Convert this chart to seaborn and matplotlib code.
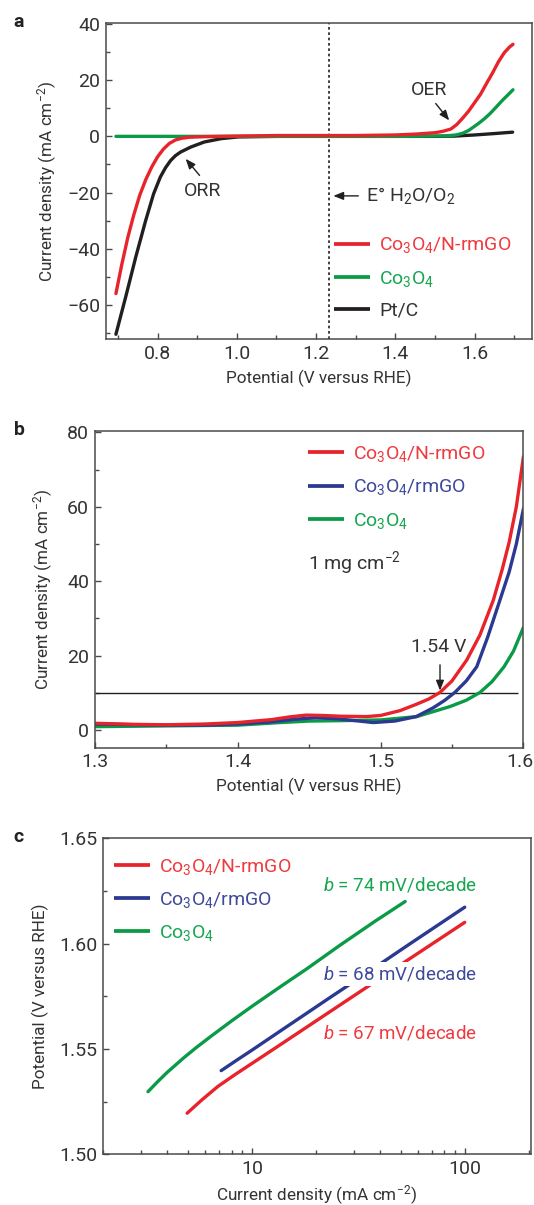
import numpy as np
import pandas as pd
import matplotlib
matplotlib.use("Agg")
import matplotlib.pyplot as plt
from matplotlib.lines import Line2D
from matplotlib.ticker import MultipleLocator, FixedLocator, NullFormatter, LogLocator
from matplotlib.transforms import ScaledTranslation
import seaborn as sns

# ---------------- data ----------------
# Panel a: polarisation curves (ORR + OER)
a_red_x = [0.695, 0.71, 0.725, 0.74, 0.755, 0.77, 0.785, 0.80, 0.815, 0.83, 0.845, 0.86, 0.88, 0.92,
           1.00, 1.10, 1.20, 1.30, 1.40, 1.45, 1.50, 1.52, 1.54, 1.555, 1.57, 1.585, 1.60, 1.615,
           1.63, 1.645, 1.66, 1.675, 1.688, 1.697]
a_red_y = [-56, -45.5, -36, -28, -21, -15.5, -11, -7.3, -4.5, -2.5, -1.3, -0.7, -0.3, -0.1,
           0.1, 0.3, 0.3, 0.3, 0.5, 0.8, 1.3, 1.8, 2.6, 4.2, 6.5, 9.0, 12.0, 15.0,
           18.8, 22.5, 26.5, 29.8, 31.8, 32.8]
a_green_x = [0.695, 0.80, 0.90, 1.00, 1.10, 1.20, 1.30, 1.40, 1.50, 1.53, 1.553, 1.57, 1.585, 1.597,
             1.61, 1.625, 1.639, 1.655, 1.67, 1.685, 1.697]
a_green_y = [0.0, 0.0, 0.0, 0.0, 0.0, 0.0, 0.0, 0.0, 0.1, 0.2, 0.5, 1.1, 2.1, 3.3,
             4.6, 6.3, 8.1, 10.5, 12.8, 14.9, 16.6]
a_black_x = [0.695, 0.72, 0.745, 0.77, 0.79, 0.807, 0.82, 0.833, 0.845, 0.858, 0.884, 0.918, 0.961,
             1.004, 1.10, 1.20, 1.30, 1.40, 1.50, 1.55, 1.60, 1.65, 1.696]
a_black_y = [-70.5, -57, -43, -30, -20.5, -14.5, -11.2, -8.6, -6.9, -5.6, -3.8, -2.0, -0.8,
             -0.2, 0.0, 0.0, 0.0, 0.0, 0.0, 0.1, 0.5, 1.0, 1.5]
e_h2o_o2 = 1.233

# Panel b: OER polarisation curves
b_red_x = [1.30, 1.33, 1.35, 1.377, 1.40, 1.424, 1.436, 1.448, 1.46, 1.472, 1.49, 1.50, 1.5136,
           1.525, 1.5336, 1.5416, 1.55, 1.5603, 1.5695, 1.5789, 1.585, 1.59, 1.595, 1.60]
b_red_y = [1.8, 1.5, 1.4, 1.6, 2.0, 2.8, 3.5, 4.0, 3.9, 3.7, 3.6, 3.9, 5.2,
           6.9, 8.3, 10.1, 13.2, 18.8, 25.5, 34.9, 43.0, 50.5, 60.0, 73.5]
b_blue_x = [1.30, 1.33, 1.35, 1.377, 1.40, 1.424, 1.44, 1.455, 1.47, 1.485, 1.495, 1.51, 1.525,
            1.537, 1.545, 1.552, 1.56, 1.5673, 1.575, 1.5836, 1.59, 1.595, 1.60]
b_blue_y = [1.6, 1.4, 1.3, 1.3, 1.6, 2.2, 2.9, 3.3, 3.0, 2.4, 2.0, 2.4, 3.6,
            6.0, 8.0, 10.1, 13.2, 17.0, 25.0, 35.0, 42.5, 50.0, 59.5]
b_green_x = [1.30, 1.35, 1.40, 1.43, 1.45, 1.47, 1.50, 1.5253, 1.5486, 1.56, 1.5696, 1.578, 1.5864,
             1.593, 1.60]
b_green_y = [0.9, 1.1, 1.3, 2.0, 2.4, 2.5, 2.7, 3.6, 6.3, 8.0, 10.1, 13.0, 17.0, 21.2, 27.6]
j_ref = 10
j_line_end = 1.5964
e_at_10 = 1.54

# Panel c: Tafel plots
c_red_x = [4.95, 5.8, 6.9, 8.3, 10.0, 13.0, 18.0, 24.0, 30.1, 40.0, 56.2, 72.8, 99.6]
c_red_y = [1.5195, 1.5258, 1.5322, 1.5378, 1.5432, 1.5508, 1.5603, 1.5687, 1.5753, 1.5836, 1.5935,
           1.6010, 1.6101]
c_blue_x = [7.15, 8.5, 10.0, 13.5, 18.0, 22.5, 27.9, 34.5, 41.9, 54.3, 72.8, 99.6]
c_blue_y = [1.5397, 1.5448, 1.5495, 1.5584, 1.5669, 1.5735, 1.5798, 1.5861, 1.5918, 1.5995, 1.6081,
            1.6173]
c_green_x = [3.24, 3.6, 3.97, 4.77, 5.5, 6.4, 8.0, 10.0, 13.5, 17.97, 25.9, 37.6, 52.3]
c_green_y = [1.5297, 1.5345, 1.5387, 1.5458, 1.5509, 1.5560, 1.5633, 1.5703, 1.5794, 1.5879, 1.5993,
             1.6105, 1.6200]
tafel_slopes = [74, 68, 67]

name_ngo = "Co$_3$O$_4$/N-rmGO"
name_rgo = "Co$_3$O$_4$/rmGO"
name_co = "Co$_3$O$_4$"
name_pt = "Pt/C"

# ---------------- style ----------------
sns.set_theme(style="ticks")
plt.rcParams["font.family"] = ["Roboto", "DejaVu Sans"]
plt.rcParams["mathtext.fontset"] = "custom"
plt.rcParams["mathtext.rm"] = "Roboto"
plt.rcParams["mathtext.it"] = "Roboto:italic"
plt.rcParams["mathtext.default"] = "regular"
plt.rcParams["axes.unicode_minus"] = True

TXT = "#333333"
SP = "#4a4a4a"
RED = "#e8242a"
BLUE = "#2b3990"
GREEN = "#0a9a48"
BLACK = "#231f20"
RED_T = "#ee3b40"
BLUE_T = "#3f4a9b"
GREEN_T = "#17a650"

FS = 14        # tick labels, legend, annotations
FL = 12.3      # axis labels
LW = 2.4

fig = plt.figure(figsize=(5.34, 12.05), dpi=100)
ax_a = fig.add_axes([0.1978, 0.7184, 0.7985, 0.2622])
ax_b = fig.add_axes([0.1773, 0.3795, 0.8030, 0.2628])
ax_c = fig.add_axes([0.1927, 0.0421, 0.8017, 0.2622])


def style_axes(ax):
    for s in ax.spines.values():
        s.set_visible(True)
        s.set_color(SP)
        s.set_linewidth(1.1)
    ax.tick_params(which="both", direction="in", colors=SP, labelcolor=TXT,
                   labelsize=FS, width=1.0)
    ax.tick_params(which="major", length=4.5, pad=4)
    ax.tick_params(which="minor", length=2.8)
    ax.grid(False)
    ax.set_facecolor("white")


def draw(ax, xs, ys, name, color):
    df = pd.DataFrame({"x": xs, "y": ys, "s": name})
    sns.lineplot(data=df, x="x", y="y", color=color, ax=ax, sort=False,
                 estimator=None, linewidth=LW, legend=False,
                 solid_capstyle="round", solid_joinstyle="round")


def legend(ax, colors, names, tcolors, anchor):
    h = [Line2D([], [], color=c, lw=LW + 0.3, solid_capstyle="butt") for c in colors]
    ax.legend(h, names, loc="center left", bbox_to_anchor=anchor, frameon=False,
              fontsize=FS, handlelength=1.85, handletextpad=0.45, labelspacing=0.68,
              borderpad=0, borderaxespad=0, labelcolor=tcolors)


arr = dict(arrowstyle="-|>,head_length=0.5,head_width=0.2", color=BLACK, lw=1.0,
           shrinkA=0, shrinkB=0)

# ---------------- panel a ----------------
ax = ax_a
draw(ax, a_black_x, a_black_y, name_pt, BLACK)
draw(ax, a_green_x, a_green_y, name_co, GREEN)
draw(ax, a_red_x, a_red_y, name_ngo, RED)
ax.axvline(e_h2o_o2, color=BLACK, lw=1.2, ls=(0, (1.6, 1.6)), zorder=1)
ax.set_xlim(0.669, 1.745)
ax.set_ylim(-72.3, 40.25)
ax.xaxis.set_major_locator(FixedLocator([0.8, 1.0, 1.2, 1.4, 1.6]))
ax.xaxis.set_minor_locator(MultipleLocator(0.1))
ax.set_xticklabels(["0.8", "1.0", "1.2", "1.4", "1.6"])
ax.yaxis.set_major_locator(MultipleLocator(20))
ax.yaxis.set_minor_locator(MultipleLocator(10))
style_axes(ax)
ax.set_xlabel("Potential (V versus RHE)", fontsize=FL, color=TXT, labelpad=5)
ax.set_ylabel("Current density (mA cm$^{-2}$)", fontsize=FL, color=TXT, labelpad=6)
ax.annotate("", xy=(1.536, 5.7), xytext=(1.502, 11.7), arrowprops=arr)
ax.text(1.485, 16.4, "OER", ha="center", va="center", fontsize=FS, color=TXT)
ax.annotate("", xy=(0.871, -8.0), xytext=(0.906, -13.9), arrowprops=arr)
ax.text(0.914, -19.3, "ORR", ha="center", va="center", fontsize=FS, color=TXT)
ax.annotate("", xy=(1.2436, -21.2), xytext=(1.3067, -21.2), arrowprops=arr)
ax.text(1.326, -21.2, "E° H$_2$O/O$_2$", ha="left", va="center", fontsize=FS, color=TXT)
legend(ax, (RED, GREEN, BLACK), [name_ngo, name_co, name_pt], [RED_T, GREEN_T, TXT],
       (0.536, 0.1955))

# ---------------- panel b ----------------
ax = ax_b
draw(ax, b_green_x, b_green_y, name_co, GREEN)
draw(ax, b_blue_x, b_blue_y, name_rgo, BLUE)
draw(ax, b_red_x, b_red_y, name_ngo, RED)
ax.hlines(j_ref, 1.3, j_line_end, color=BLACK, lw=1.0, zorder=1)
ax.set_xlim(1.3, 1.6)
ax.set_ylim(-4.76, 80.35)
ax.xaxis.set_major_locator(FixedLocator([1.3, 1.4, 1.5, 1.6]))
ax.set_xticklabels(["1.3", "1.4", "1.5", "1.6"])
ax.xaxis.set_minor_locator(MultipleLocator(0.05))
ax.yaxis.set_major_locator(MultipleLocator(20))
ax.yaxis.set_minor_locator(MultipleLocator(10))
style_axes(ax)
last = ax.xaxis.get_major_ticks()[-1].label1
last.set_transform(last.get_transform() + ScaledTranslation(-3.5 / 100, 0, fig.dpi_scale_trans))
ax.set_xlabel("Potential (V versus RHE)", fontsize=FL, color=TXT, labelpad=5)
ax.set_ylabel("Current density (mA cm$^{-2}$)", fontsize=FL, color=TXT, labelpad=9)
ax.annotate("", xy=(1.5416, 10.6), xytext=(1.5416, 17.5), arrowprops=arr)
ax.text(1.5404, 22.4, f"{e_at_10:.2f} V", ha="center", va="center", fontsize=FS, color=TXT)
ax.text(1.4494, 45, "1 mg cm$^{-2}$", ha="left", va="center", fontsize=FS, color=TXT)
legend(ax, (RED, BLUE, GREEN), [name_ngo, name_rgo, name_co], [RED_T, BLUE_T, GREEN_T],
       (0.497, 0.822))

# ---------------- panel c ----------------
ax = ax_c
draw(ax, c_green_x, c_green_y, name_co, GREEN)
draw(ax, c_blue_x, c_blue_y, name_rgo, BLUE)
draw(ax, c_red_x, c_red_y, name_ngo, RED)
ax.set_xscale("log")
ax.set_xlim(1.99, 204)
ax.set_ylim(1.5, 1.65)
ax.xaxis.set_major_locator(FixedLocator([10, 100]))
ax.set_xticklabels(["10", "100"])
ax.xaxis.set_minor_locator(LogLocator(base=10, subs=np.arange(2, 10)))
ax.xaxis.set_minor_formatter(NullFormatter())
ax.set_yticks([1.50, 1.55, 1.60, 1.65])
ax.set_yticklabels(["1.50", "1.55", "1.60", "1.65"])
ax.yaxis.set_minor_locator(MultipleLocator(0.025))
style_axes(ax)
ax.set_xlabel("Current density (mA cm$^{-2}$)", fontsize=FL, color=TXT, labelpad=4)
ax.set_ylabel("Potential (V versus RHE)", fontsize=FL, color=TXT, labelpad=7)
bb = dict(boxstyle="square,pad=0.12", fc="white", ec="none")
for b, yy, col in zip(tafel_slopes, [1.6278, 1.5856, 1.5578], [GREEN_T, BLUE_T, RED_T]):
    ax.text(21.6, yy, f"$\\mathit{{b}}$ = {b} mV/decade", ha="left", va="center",
            fontsize=FS - 0.5, color=col, bbox=bb, zorder=5)
legend(ax, (RED, BLUE, GREEN), [name_ngo, name_rgo, name_co], [RED_T, BLUE_T, GREEN_T],
       (0.026, 0.805))

# panel letters
for lab, yy in zip(["a", "b", "c"], [0.9778, 0.639, 0.301]):
    fig.text(0.0255, yy, lab, fontsize=FS, fontweight="bold", color="#222222",
             ha="left", va="baseline")

fig.savefig("out.png", dpi=100, facecolor="white")
